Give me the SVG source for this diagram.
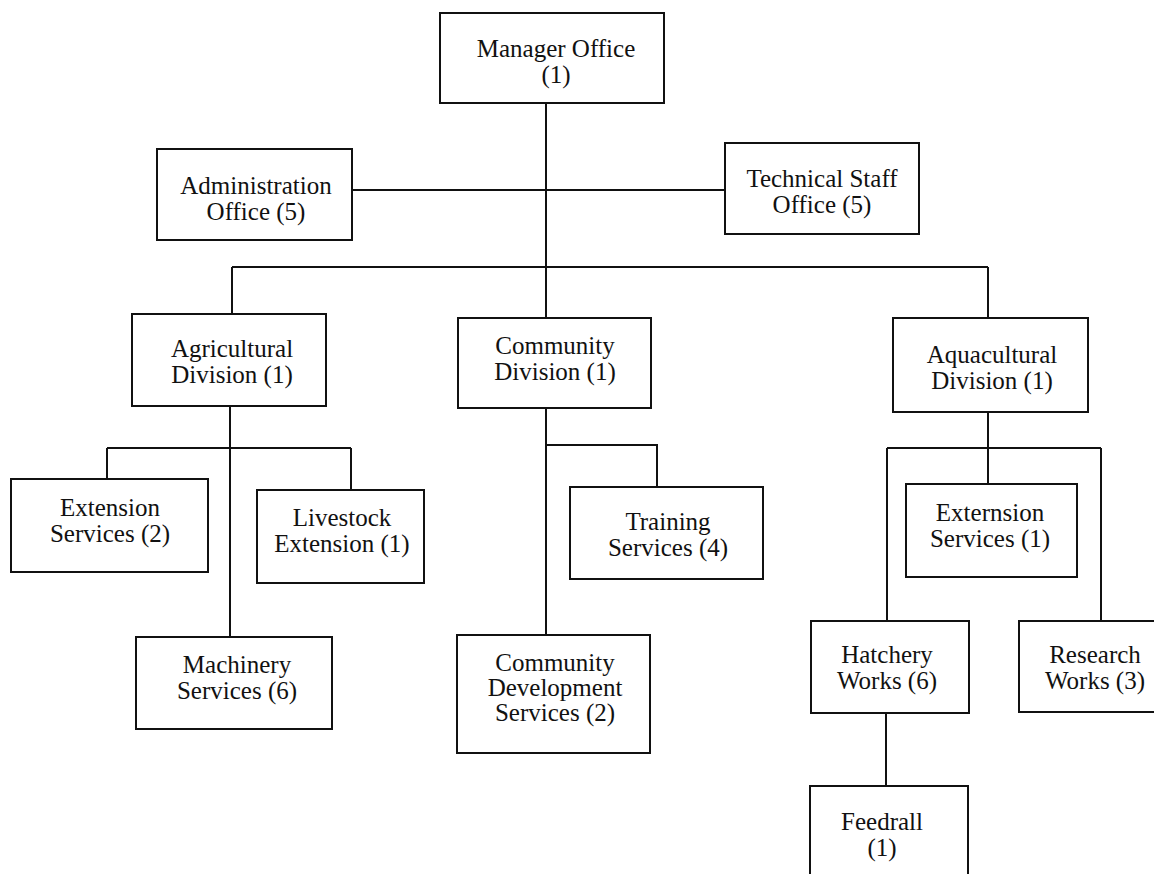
<svg xmlns="http://www.w3.org/2000/svg" width="1154" height="874" viewBox="0 0 1154 874">
<style>
.box{fill:#fff;stroke:#111;stroke-width:2}
.t{font-family:"Liberation Serif","Times New Roman",serif;font-size:25px;fill:#111;text-anchor:middle}
.c{fill:none;stroke:#111;stroke-width:2}
</style>
<rect width="1154" height="874" fill="#fff"/>
<g id="connectors">
<path class="c" d="M546,103 V318"/>
<path class="c" d="M352,190 H725"/>
<path class="c" d="M232,267 H988 M232,267 V314 M988,267 V318"/>
<path class="c" d="M230,406 V637 M107,448 H351 M107,448 V479 M351,448 V490"/>
<path class="c" d="M546,408 V635 M546,445 H657 V487"/>
<path class="c" d="M988,412 V484 M887,448 H1101 M887,448 V621 M1101,448 V621"/>
<path class="c" d="M886,713 V786"/>
</g>
<g id="manager"><rect class="box" x="440" y="13" width="224" height="90"/><text class="t" x="556" y="57">Manager Office</text><text class="t" x="556" y="83">(1)</text></g>
<g id="admin"><rect class="box" x="157" y="149" width="195" height="91"/><text class="t" x="256" y="194">Administration</text><text class="t" x="256" y="220">Office (5)</text></g>
<g id="technical"><rect class="box" x="725" y="143" width="194" height="91"/><text class="t" x="822" y="187">Technical Staff</text><text class="t" x="822" y="213">Office (5)</text></g>
<g id="agricultural"><rect class="box" x="132" y="314" width="194" height="92"/><text class="t" x="232" y="357">Agricultural</text><text class="t" x="232" y="383">Division (1)</text></g>
<g id="community"><rect class="box" x="458" y="318" width="193" height="90"/><text class="t" x="555" y="354">Community</text><text class="t" x="555" y="380">Division (1)</text></g>
<g id="aquacultural"><rect class="box" x="893" y="318" width="195" height="94"/><text class="t" x="992" y="363">Aquacultural</text><text class="t" x="992" y="389">Division (1)</text></g>
<g id="extension-services"><rect class="box" x="11" y="479" width="197" height="93"/><text class="t" x="110" y="516">Extension</text><text class="t" x="110" y="542">Services (2)</text></g>
<g id="livestock"><rect class="box" x="257" y="490" width="167" height="93"/><text class="t" x="342" y="526">Livestock</text><text class="t" x="342" y="552">Extension (1)</text></g>
<g id="training"><rect class="box" x="570" y="487" width="193" height="92"/><text class="t" x="668" y="530">Training</text><text class="t" x="668" y="556">Services (4)</text></g>
<g id="externsion"><rect class="box" x="906" y="484" width="171" height="93"/><text class="t" x="990" y="521">Externsion</text><text class="t" x="990" y="547">Services (1)</text></g>
<g id="machinery"><rect class="box" x="136" y="637" width="196" height="92"/><text class="t" x="237" y="673">Machinery</text><text class="t" x="237" y="699">Services (6)</text></g>
<g id="community-development"><rect class="box" x="457" y="635" width="193" height="118"/><text class="t" x="555" y="671">Community</text><text class="t" x="555" y="696">Development</text><text class="t" x="555" y="721">Services (2)</text></g>
<g id="hatchery"><rect class="box" x="811" y="621" width="158" height="92"/><text class="t" x="887" y="663">Hatchery</text><text class="t" x="887" y="689">Works (6)</text></g>
<g id="research"><rect class="box" x="1019" y="621" width="150" height="91"/><text class="t" x="1095" y="663">Research</text><text class="t" x="1095" y="689">Works (3)</text></g>
<g id="feedrall"><rect class="box" x="810" y="786" width="158" height="100"/><text class="t" x="882" y="830">Feedrall</text><text class="t" x="882" y="856">(1)</text></g>
</svg>
